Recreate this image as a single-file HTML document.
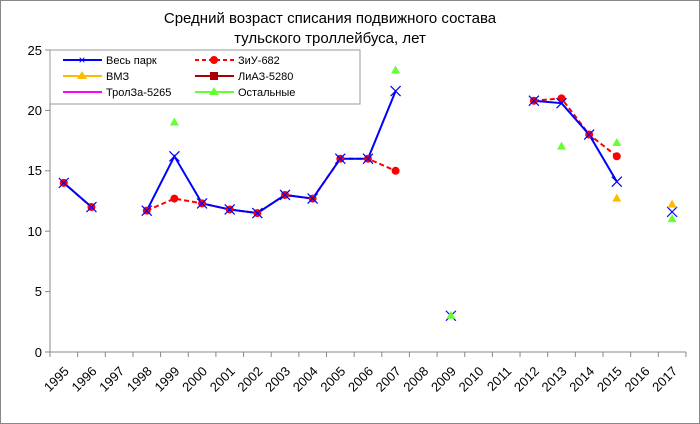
<!DOCTYPE html><html><head><meta charset="utf-8"><style>body{margin:0;background:#fff}svg{display:block;font-family:"Liberation Sans",sans-serif}</style></head><body>
<svg width="700" height="424" viewBox="0 0 700 424" xmlns="http://www.w3.org/2000/svg">
<rect x="0.5" y="0.5" width="699" height="423" fill="#fff" stroke="#888"/>
<text x="330" y="23" font-size="15" text-anchor="middle">Средний возраст списания подвижного состава</text>
<text x="330" y="43" font-size="15" text-anchor="middle">тульского троллейбуса, лет</text>
<g stroke="#888" stroke-width="1">
<line x1="50" y1="50" x2="50" y2="357"/><line x1="50" y1="352" x2="686" y2="352"/>
<line x1="45" y1="50" x2="50" y2="50"/><line x1="45" y1="110.4" x2="50" y2="110.4"/><line x1="45" y1="170.8" x2="50" y2="170.8"/><line x1="45" y1="231.2" x2="50" y2="231.2"/><line x1="45" y1="291.6" x2="50" y2="291.6"/><line x1="45" y1="352" x2="50" y2="352"/>
</g>
<g font-size="13" text-anchor="end"><text x="42" y="55">25</text><text x="42" y="115">20</text><text x="42" y="175">15</text><text x="42" y="236">10</text><text x="42" y="296">5</text><text x="42" y="357">0</text></g>
<g id="xt" stroke="#888"></g>
<g id="xl" font-size="13"></g>
<rect x="50" y="50" width="310" height="54" fill="#fff" stroke="#999"/>
<g font-size="11">
<line x1="63" y1="60" x2="102" y2="60" stroke="#00f" stroke-width="2"/><text x="82" y="64" text-anchor="middle" fill="#00f" font-size="12">×</text><text x="106" y="64">Весь парк</text>
<line x1="63" y1="76" x2="102" y2="76" stroke="#fb0" stroke-width="2"/><path d="M82 71l5 8h-10z" fill="#fb0"/><text x="106" y="80">ВМЗ</text>
<line x1="63" y1="92" x2="102" y2="92" stroke="#f0f" stroke-width="2"/><text x="106" y="96">ТролЗа-5265</text>
<line x1="195" y1="60" x2="234" y2="60" stroke="#f00" stroke-width="2" stroke-dasharray="4,3"/><circle cx="214" cy="60" r="4" fill="#f00"/><text x="238" y="64">ЗиУ-682</text>
<line x1="195" y1="76" x2="234" y2="76" stroke="#a00" stroke-width="2"/><rect x="210" y="72" width="8" height="8" fill="#a00"/><text x="238" y="80">ЛиАЗ-5280</text>
<line x1="195" y1="92" x2="234" y2="92" stroke="#6f3" stroke-width="2"/><path d="M214 87l5 8h-10z" fill="#6f3"/><text x="238" y="96">Остальные</text>
</g>
<g id="d"></g>
</svg>
<script>
var X=i=>50+13.8+27.65*i,Y=v=>352-12.08*v,ns="http://www.w3.org/2000/svg";
function el(p,t,a,tx){var e=document.createElementNS(ns,t);for(var k in a)e.setAttribute(k,a[k]);if(tx)e.textContent=tx;document.getElementById(p).appendChild(e);return e}
for(var i=0;i<=23;i++)el("xt","line",{x1:50+27.65*i,y1:352,x2:50+27.65*i,y2:357});
for(var i=0;i<23;i++){var x=X(i)+6,y=372;el("xl","text",{x:x,y:y,"text-anchor":"end",transform:"rotate(-45 "+x+" "+y+")"},String(1995+i))}
function line(pts,st){el("d","polyline",Object.assign({points:pts.map(p=>X(p[0]-1995)+","+Y(p[1])).join(" "),fill:"none"},st))}
var zi=[[1995,14],[1996,12],[1998,11.7],[1999,12.7],[2000,12.3],[2001,11.8],[2002,11.5],[2003,13],[2004,12.7],[2005,16],[2006,16],[2007,15],[2012,20.8],[2013,21],[2014,18],[2015,16.2]];
var ve=[[1995,14],[1996,12],[1998,11.7],[1999,16.2],[2000,12.3],[2001,11.8],[2002,11.5],[2003,13],[2004,12.7],[2005,16],[2006,16],[2007,21.6],[2009,3],[2012,20.8],[2013,20.6],[2014,18],[2015,14.1],[2017,11.6]];
var zs={stroke:"#f00","stroke-width":2,"stroke-dasharray":"5,3"};
line(zi.slice(0,2),zs);line(zi.slice(2,12),zs);line(zi.slice(12),zs);
var vs={stroke:"#00f","stroke-width":2};
line(ve.slice(0,2),vs);line(ve.slice(2,12),vs);line(ve.slice(13,17),vs);
zi.forEach(p=>el("d","circle",{cx:X(p[0]-1995),cy:Y(p[1]),r:4,fill:"#f00"}));
ve.forEach(p=>{var x=X(p[0]-1995),y=Y(p[1]);el("d","path",{d:"M"+(x-5)+" "+(y-5)+"L"+(x+5)+" "+(y+5)+"M"+(x+5)+" "+(y-5)+"L"+(x-5)+" "+(y+5),stroke:"#00f","stroke-width":1.2})});
function tri(p,c){var x=X(p[0]-1995),y=Y(p[1]);el("d","path",{d:"M"+x+" "+(y-5)+"l4.5 8h-9z",fill:c})}
[[2015,12.7],[2017,12.2]].forEach(p=>tri(p,"#fb0"));
[[1999,19],[2007,23.3],[2009,3],[2013,17],[2015,17.3],[2017,11]].forEach(p=>tri(p,"#6f3"));
</script>
</body></html>
